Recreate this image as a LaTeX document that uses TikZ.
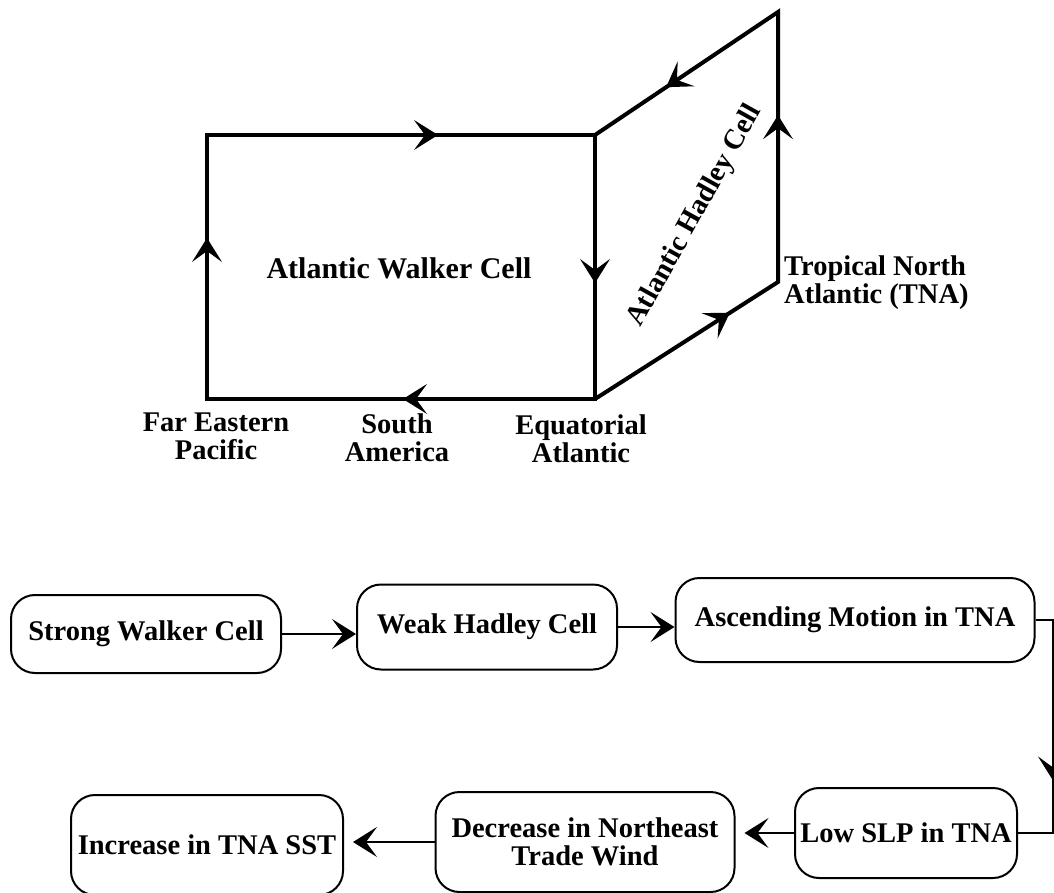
\documentclass[tikz,border=0pt]{standalone}
\usepackage{fontspec}
\setmainfont{Liberation Serif}
\usetikzlibrary{arrows.meta,decorations.markings}

\tikzset{
  >={Stealth[length=24pt,width=30pt,inset=11pt,line width=2pt]},
  box/.style={draw,line width=2pt,rounded corners=24pt,align=center,inner sep=0pt},
  cell/.style={line width=4pt,line join=miter},
  flow/.style={line width=2pt,->},
  tips/.style={postaction={decorate,decoration={markings,#1}}}
}

\begin{document}
\begin{tikzpicture}[x=1pt,y=-1pt,every node/.style={font=\bfseries\fontsize{28.5}{28}\selectfont}]
  \useasboundingbox (0,0) rectangle (1054,893);

  % Esquinas de las celdas
  \coordinate (fep) at (207,399);
  \coordinate (nw) at (207,135);
  \coordinate (ne) at (595,135);
  \coordinate (eqa) at (595,399);
  \coordinate (tna) at (778,282);
  \coordinate (top) at (778,12);

  % Celda de Walker y celda de Hadley
  \draw[cell,tips={mark=at position 161pt with {\arrow{>}},
                   mark=at position 495pt with {\arrow{>}},
                   mark=at position 800pt with {\arrow{>}},
                   mark=at position 1108pt with {\arrow{>}}}]
    (fep) -- (nw) -- (ne) -- (eqa) -- cycle;
  \draw[cell,tips={mark=at position 160pt with {\arrow{>}},
                   mark=at position 384pt with {\arrow{>}},
                   mark=at position 622pt with {\arrow{>}}}]
    (eqa) -- (tna) -- (top) -- (ne);

  % Etiquetas
  \node[font=\bfseries\fontsize{30}{28}\selectfont] (walker) at (399,268) {Atlantic Walker Cell};
  \node[rotate=61] (hadley) at (695,216) {Atlantic Hadley Cell};
  \node[align=left,anchor=west,inner sep=0pt] (tnalbl) at (784,283) {Tropical North\\Atlantic (TNA)};
  \node[align=center] (feplbl) at (216,436) {Far Eastern\\Pacific};
  \node[align=center] (salbl) at (397,438) {South\\America};
  \node[align=center] (eqlbl) at (581,439) {Equatorial\\Atlantic};

  % Cajas
  \node[box,minimum width=270pt,minimum height=78pt] (strong) at (146,634) {Strong Walker Cell};
  \node[box,minimum width=260pt,minimum height=85pt] (weak) at (487,627) {Weak Hadley Cell};
  \node[box,minimum width=359pt,minimum height=84pt] (ascend) at (855,620) {Ascending Motion in TNA};
  \node[box,minimum width=222pt,minimum height=90pt] (lowslp) at (906,833) {Low SLP in TNA};
  \node[box,minimum width=299pt,minimum height=100pt] (trade) at (585,842) {Decrease in Northeast\\Trade Wind};
  \node[box,minimum width=272pt,minimum height=100pt] (sst) at (207,845) {Increase in TNA SST};

  % Flechas
  \coordinate (rim) at (1053,0);
  \foreach \from/\to in {strong/weak, weak/ascend}
    \draw[flow] (\from.east) -- (\from.east -| \to.west);
  \draw[line width=2pt,tips={mark=at position 178pt with {\arrow{>}}}]
    (ascend.east) -- (ascend.east -| rim) -- (lowslp.east -| rim) -- (lowslp.east);
  \foreach \from/\to in {lowslp/trade, trade/sst}
    \draw[flow,shorten >=9pt] (\from.west) -- (\from.west -| \to.east);
\end{tikzpicture}
\end{document}
